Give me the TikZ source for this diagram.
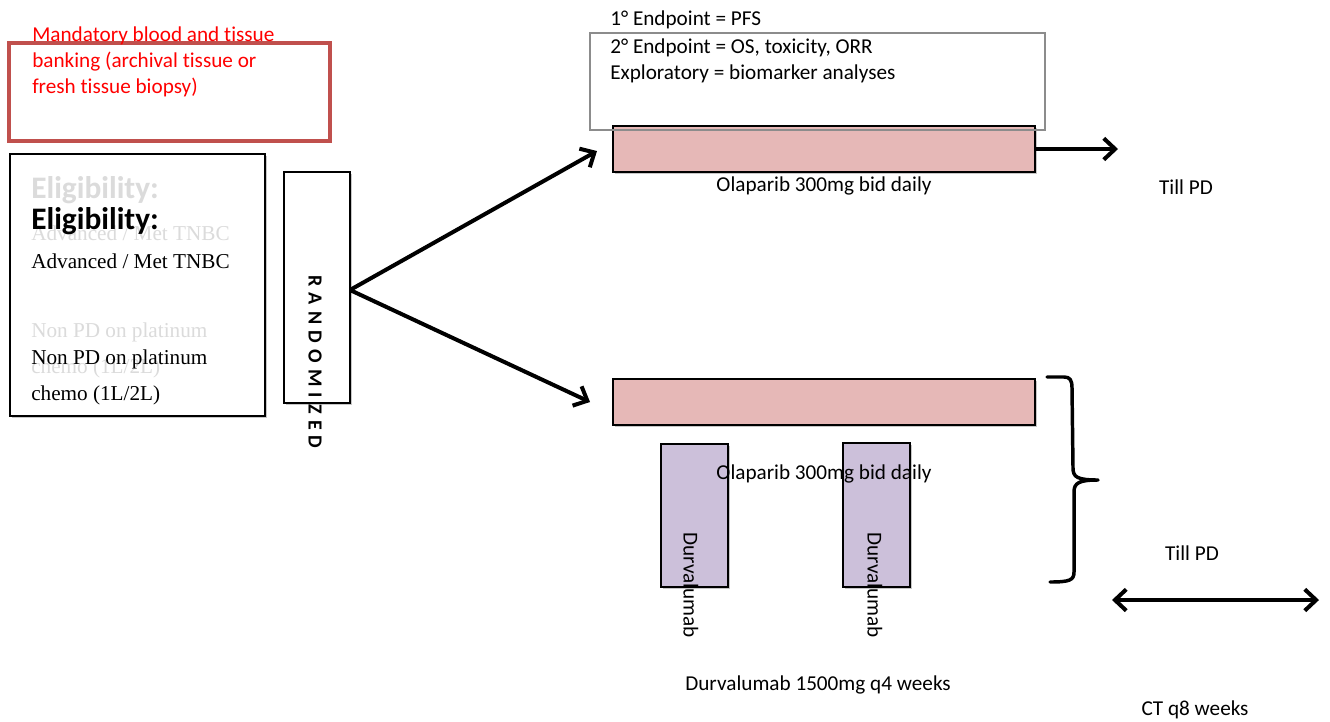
\documentclass[tikz,border=0pt]{standalone}
\usepackage{fontspec}
\setmainfont{Carlito}[Ligatures=NoCommon]
\newfontfamily\timesf{Liberation Serif}
\usetikzlibrary{arrows.meta,shadows}
\definecolor{redbox}{HTML}{C0504D}
\definecolor{pinkbar}{HTML}{E6B8B7}
\definecolor{purplebar}{HTML}{CCC0DA}
\definecolor{ghost}{gray}{0.86}
\definecolor{endbox}{gray}{0.55}
\begin{document}
\begin{tikzpicture}[x=0.75pt,y=-0.75pt,
  txt/.style={inner sep=0pt, anchor=base west, font=\fontsize{15.9}{19}\selectfont},
  ctxt/.style={txt, anchor=base},
  serif/.style={inner sep=0pt, anchor=base west, font=\fontsize{15.9}{19}\timesf},
  boxshadow/.style={drop shadow={shadow xshift=1.5pt,shadow yshift=-1.5pt,opacity=0.22,fill=black}},
  plainbox/.style={draw=black, line width=1.5pt, fill=white, boxshadow, inner sep=0pt},
  pinkbox/.style={draw=black, line width=1.5pt, fill=pinkbar, boxshadow, inner sep=0pt},
  purplebox/.style={draw=black, line width=1.5pt, fill=purplebar, boxshadow, inner sep=0pt},
  bigarrow/.style={line width=3pt, -{Straight Barb[length=8.5pt,width=16pt]}},
  dblarrow/.style={line width=3pt, {Straight Barb[length=8.5pt,width=16pt]}-{Straight Barb[length=8.5pt,width=16pt]}},
]
\useasboundingbox (0,0) rectangle (1330,721);

% banking box
\node[draw=redbox, line width=3.4pt, minimum width={321*0.75pt}, minimum height={98*0.75pt}, inner sep=0pt] (bank) at (169.5,92) {};
\node[txt, text=red] (bank1) at (32,41) {Mandatory blood and tissue};
\node[txt, text=red] (bank2) at (32,67) {banking (archival tissue or};
\node[txt, text=red] (bank3) at (32,93) {fresh tissue biopsy)};

% eligibility box
\node[plainbox, minimum width={255*0.75pt}, minimum height={262*0.75pt}] (elig) at (137.5,285) {};
\node[inner sep=0pt, anchor=base west, text=ghost, font=\fontsize{23.5}{28}\selectfont\bfseries] (gelig) at (31,198) {Eligibility:};
\node[serif, text=ghost] (gadv) at (31,240) {Advanced / Met TNBC};
\node[serif, text=ghost] (gnon) at (31,337) {Non PD on platinum};
\node[serif, text=ghost] (gchemo) at (31,373) {chemo (1L/2L)};
\node[inner sep=0pt, anchor=base west, font=\fontsize{23.5}{28}\selectfont\bfseries] (eligt) at (31,229) {Eligibility:};
\node[serif] (adv) at (31,268) {Advanced / Met TNBC};
\node[serif] (non) at (31,364) {Non PD on platinum};
\node[serif] (chemo) at (31,400) {chemo (1L/2L)};

% randomized box
\node[plainbox, minimum width={66*0.75pt}, minimum height={231*0.75pt}] (rand) at (316.5,287.5) {};
\node[inner sep=0pt, rotate=-90, font=\fontsize{15}{18}\selectfont\bfseries\addfontfeature{LetterSpace=31}] (randt) at (315,362) {RANDOMIZED};

% arms
\coordinate (rs) at (350,290);
\coordinate (tipup) at (597,151);
\coordinate (tipdn) at (590,402);
\draw[bigarrow] (rs) -- (tipup);
\draw[bigarrow] (rs) -- (tipdn);

% upper arm
\node[pinkbox, minimum width={422*0.75pt}, minimum height={46*0.75pt}] (bar1) at (824,149) {};
\node[draw=endbox, line width=1.1pt, minimum width={455*0.75pt}, minimum height={97*0.75pt}, inner sep=0pt] (endp) at (817.5,81.5) {};
\node[txt] (ep1) at (610,26) {1° Endpoint = PFS};
\node[txt] (ep2) at (610,53) {2° Endpoint = OS, toxicity, ORR};
\node[txt] (ep3) at (610,79) {Exploratory = biomarker analyses};
\coordinate (tip1) at (1118,149);
\draw[bigarrow] (bar1.east) -- (tip1);
\node[ctxt] (ola1) at (824,191) {Olaparib 300mg bid daily};
\node[ctxt] (till1) at (1186,194) {Till PD};

% lower arm
\node[pinkbox, minimum width={422*0.75pt}, minimum height={46*0.75pt}] (bar2) at (824,402) {};
\node[purplebox, minimum width={67*0.75pt}, minimum height={143*0.75pt}] (dur1) at (694.5,515.5) {};
\node[purplebox, minimum width={67*0.75pt}, minimum height={144*0.75pt}] (dur2) at (876.5,515) {};
\node[ctxt] (ola2) at (824,479) {Olaparib 300mg bid daily};
\node[inner sep=0pt, rotate=-90, font=\fontsize{15.9}{19}\selectfont] (dur1t) at (691,585) {Durvalumab};
\node[inner sep=0pt, rotate=-90, font=\fontsize{15.9}{19}\selectfont] (dur2t) at (875,585) {Durvalumab};

% brace
\draw[line width=2.6pt, line cap=round, line join=round] (1047,377) -- (1064,377) .. controls (1070,377) and (1072,380) .. (1072,388) -- (1073,468) .. controls (1073,477) and (1077,480) .. (1098,480) .. controls (1079,480) and (1074,483) .. (1074,492) -- (1074,572) .. controls (1074,580) and (1070,582) .. (1050,582);

\node[ctxt] (till2) at (1192,560) {Till PD};
\coordinate (dl) at (1112,600);
\coordinate (dr) at (1319,600);
\draw[dblarrow] (dl) -- (dr);
\node[ctxt] (durt) at (818,690) {Durvalumab 1500mg q4 weeks};
\node[ctxt] (ct) at (1195,715) {CT q8 weeks};
\end{tikzpicture}
\end{document}
